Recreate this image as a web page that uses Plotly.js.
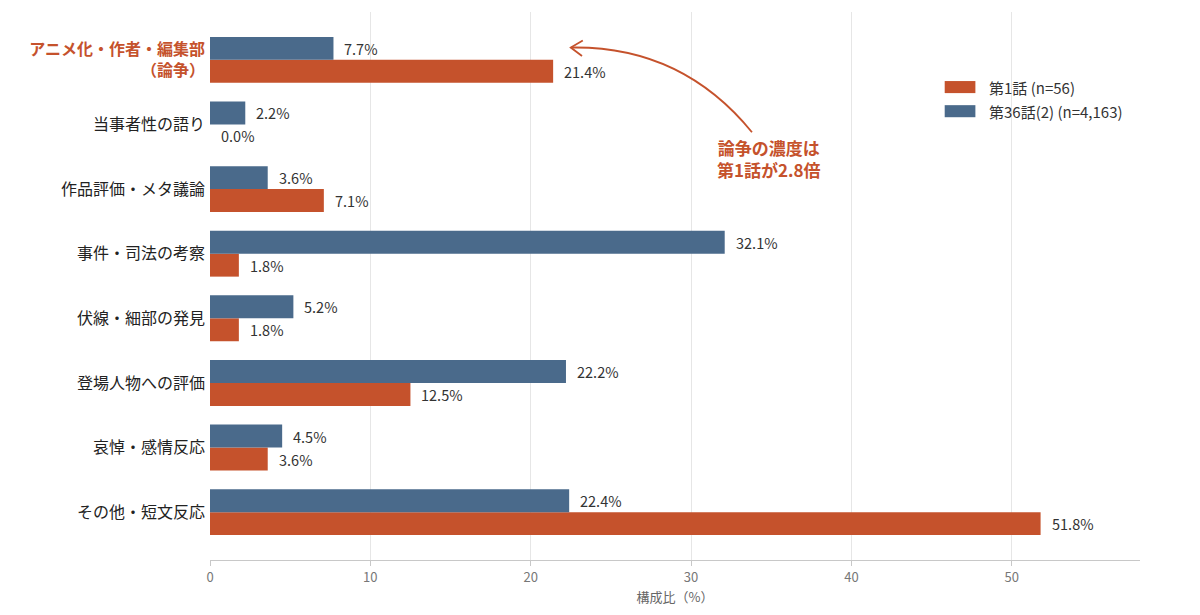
<!DOCTYPE html>
<html>
<head>
<meta charset="utf-8">
<script src="https://cdn.plot.ly/plotly-3.0.1.min.js"></script>
<style>
  html, body { margin: 0; padding: 0; background: #fff; }
  #chart { width: 1200px; height: 615px; }
</style>
</head>
<body>
<div id="chart"></div>
<script>
// categories, top to bottom
const CATEGORIES = [
  "アニメ化・作者・編集部（論争）",
  "当事者性の語り",
  "作品評価・メタ議論",
  "事件・司法の考察",
  "伏線・細部の発見",
  "登場人物への評価",
  "哀悼・感情反応",
  "その他・短文反応",
];
const TICK_TEXT = [
  "<b>アニメ化・作者・編集部<br>（論争）</b>",
  "当事者性の語り",
  "作品評価・メタ議論",
  "事件・司法の考察",
  "伏線・細部の発見",
  "登場人物への評価",
  "哀悼・感情反応",
  "その他・短文反応",
];
const EP1 = [21.4, 0.0, 7.1, 1.8, 1.8, 12.5, 3.6, 51.8];     // 第1話 (n=56)
const EP36 = [7.7, 2.2, 3.6, 32.1, 5.2, 22.2, 4.5, 22.4];    // 第36話(2) (n=4,163)
const SERIES_NAMES = ["第1話 (n=56)", "第36話(2) (n=4,163)"];
const X_TICKS = [0, 10, 20, 30, 40, 50];

const ORANGE = "#C5522C";
const BLUE = "#4A6A8B";
const FONT = "Noto Sans CJK JP, Noto Sans, sans-serif";

// y positions: category 0 at the top
const n = CATEGORIES.length;
const ypos = CATEGORIES.map((_, i) => n - 1 - i);

const BAR_W = 0.355;

const traces = [
  {
    type: "bar", orientation: "h", name: SERIES_NAMES[0],
    x: EP1, y: ypos.map(v => v - BAR_W / 2), width: BAR_W,
    marker: { color: ORANGE, line: { width: 0 } },
    hoverinfo: "skip",
  },
  {
    type: "bar", orientation: "h", name: SERIES_NAMES[1],
    x: EP36, y: ypos.map(v => v + BAR_W / 2), width: BAR_W,
    marker: { color: BLUE, line: { width: 0 } },
    hoverinfo: "skip",
  },
];

// value labels next to each bar end
const annotations = [];
[[EP1, -1], [EP36, 1]].forEach(([vals, side]) => {
  vals.forEach((v, i) => {
    annotations.push({
      x: v, y: ypos[i] + side * BAR_W / 2, xref: "x", yref: "y",
      text: v.toFixed(1) + "%", showarrow: false,
      xanchor: "left", yanchor: "middle", xshift: 9,
      font: { family: FONT, size: 14.5, color: "#333" },
    });
  });
});

// legend drawn by hand so the swatches are wide rectangles
const shapes = [];
const LEG = { x0: 0.790, x1: 0.823, tx: 0.836, y: [0.863, 0.819], h: 0.022 };
[ORANGE, BLUE].forEach((col, k) => {
  shapes.push({
    type: "rect", xref: "paper", yref: "paper",
    x0: LEG.x0, x1: LEG.x1, y0: LEG.y[k] - LEG.h / 2, y1: LEG.y[k] + LEG.h / 2,
    fillcolor: col, line: { width: 0 },
  });
  annotations.push({
    x: LEG.tx, y: LEG.y[k], xref: "paper", yref: "paper",
    text: SERIES_NAMES[k], showarrow: false, xanchor: "left", yanchor: "middle",
    font: { family: FONT, size: 15, color: "#333" },
  });
});

// callout text
annotations.push({
  x: 34.85, y: ypos[1] - 0.52, xref: "x", yref: "y",
  text: "<b>論争の濃度は<br>第1話が2.8倍</b>", showarrow: false,
  xanchor: "center", yanchor: "middle", align: "center",
  font: { family: FONT, size: 17, color: ORANGE },
});

// curved arrow from callout to the 論争 row (data coords)
const p0 = [33.8, ypos[0] - 1.12];
const c = [29.4, ypos[0] + 0.22];
const p2 = [22.5, ypos[0] + 0.19];
shapes.push(
  {
    type: "path", xref: "x", yref: "y",
    path: `M ${p0[0]} ${p0[1]} Q ${c[0]} ${c[1]} ${p2[0]} ${p2[1]}`,
    line: { color: ORANGE, width: 1.8 },
  },
  {
    type: "path", xref: "x", yref: "y",
    path: `M ${p2[0] + 0.75} ${p2[1] + 0.11} L ${p2[0]} ${p2[1]} L ${p2[0] + 0.7} ${p2[1] - 0.13}`,
    line: { color: ORANGE, width: 1.8 },
  }
);

const layout = {
  width: 1200, height: 615,
  paper_bgcolor: "#fff", plot_bgcolor: "#fff",
  font: { family: FONT, color: "#333" },
  margin: { l: 210, r: 60, t: 12, b: 55 },
  showlegend: false,
  xaxis: {
    range: [0, 58], tickvals: X_TICKS,
    showgrid: true, gridcolor: "#e6e6e6", gridwidth: 1,
    zeroline: false,
    showline: true, linecolor: "#c8c8c8", linewidth: 1,
    ticks: "outside", ticklen: 5, tickcolor: "#c8c8c8",
    tickfont: { family: FONT, size: 13, color: "#777" },
    title: { text: "構成比（%）", font: { family: FONT, size: 13, color: "#666" }, standoff: 8 },
  },
  yaxis: {
    range: [-0.74, n - 1 + 0.74],
    tickvals: ypos, ticktext: TICK_TEXT,
    showgrid: false, zeroline: false, showline: false,
    ticks: "", ticklabelstandoff: 4,
    tickfont: { family: FONT, size: 16, color: "#222" },
  },
  annotations, shapes,
};

Plotly.newPlot("chart", traces, layout, { displayModeBar: false, staticPlot: true }).then(() => {
  // colour the first (highlighted) tick label
  document.querySelectorAll(".ytick text").forEach(t => {
    if (t.textContent.indexOf("アニメ化") === 0) t.style.fill = ORANGE;
  });
});
</script>
</body>
</html>
